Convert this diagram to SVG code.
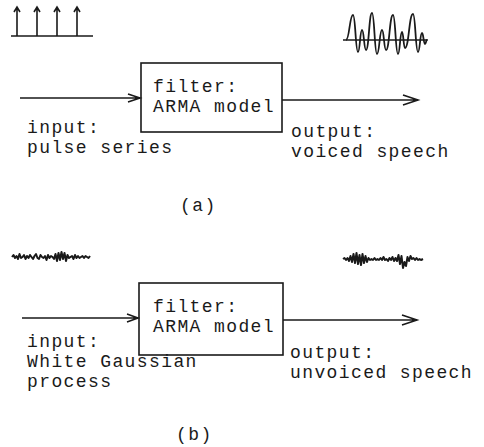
<svg xmlns="http://www.w3.org/2000/svg" width="484" height="447" viewBox="0 0 484 447">
<style>
text{font-family:"Liberation Mono","DejaVu Sans Mono",monospace;font-size:18px;letter-spacing:1.4px;fill:#1a1a1a}
.box{fill:none;stroke:#1a1a1a;stroke-width:1.6}
.ln{fill:none;stroke:#1a1a1a;stroke-width:1.6;stroke-linejoin:miter}
.wave{fill:none;stroke:#1a1a1a;stroke-width:1.8}
.noise{fill:none;stroke:#1a1a1a;stroke-width:2;stroke-linejoin:round}
</style>
<rect width="484" height="447" fill="#fff"/>
<!-- panel (a) -->
<g id="pulse-series-signal">
<path class="ln" d="M11,36 H93 M17,36 V7 M14,12 L17,7 L20,12 M37,36 V7 M34,12 L37,7 L40,12 M57,36 V7 M54,12 L57,7 L60,12 M77,36 V7 M74,12 L77,7 L80,12"/>
</g>
<g id="voiced-speech-signal">
<path class="ln" d="M343,40 H428"/>
<path class="wave" d="M346,40 C349.5,40 349.5,15 353,15 C355.5,15 355.5,52 358,52 C360,52 360,30 362,30 C364,30 364,50 366,50 C369,50 369,13 372,13 C374.5,13 374.5,54 377,54 C379.5,54 379.5,30 382,30 C384,30 384,50 386,50 C389.5,50 389.5,15 393,15 C395.5,15 395.5,54 398,54 C400,54 400,32 402,32 C403.5,32 403.5,48 405,48 C409,48 409,14 413,14 C415.5,14 415.5,52 418,52 C420,52 420,33 422,33 C423.5,33 423.5,44 425,44 C426,44 426,40 427,40"/>
</g>
<g id="filter-a">
<rect class="box" x="141" y="63" width="141" height="69"/>
<text x="153" y="92">filter:</text>
<text x="153" y="112">ARMA model</text>
</g>
<g id="input-a">
<text x="27" y="133">input:</text>
<text x="27" y="153">pulse series</text>
</g>
<g id="output-a">
<text x="291" y="137">output:</text>
<text x="291" y="157">voiced speech</text>
</g>
<text x="180" y="211">(a)</text>
<!-- panel (b) -->
<g id="white-noise-signal">
<polyline class="noise" points="12,257 13.5,255 15,258 16.5,256 18,259 19.5,254 21,258 22.5,257 24,255 25.5,259 27,256 28.5,258 30,255 31.5,257 33,259 34.5,256 36,254 37.5,258 39,259 40.5,255 42,257 43.5,258 45,256 46.5,260 48,255 49.5,258 51,256 52.5,257 54,259 55.5,254 57,261 58.5,253 60,260 61.5,252 63,259 64.5,253 66,261 67.5,255 69,258 70.5,257 72,256 73.5,259 75,255 76.5,258 78,256 79.5,258 81,257 82.5,256 84,258 85.5,256 87,257 88.5,258 90,256"/>
</g>
<g id="unvoiced-speech-signal">
<polyline class="noise" points="343,259 344.5,258 346,260 347.5,258 349,261 350.5,256 352,262 353.5,254 355,263 356.5,253 358,264 359.5,255 361,265 362.5,254 364,263 365.5,256 367,262 368.5,258 370,260 371.5,259 373,260 374.5,258 376,260 377.5,259 379,260 380.5,258 382,260 383.5,257 385,260 386.5,259 388,261 389.5,258 391,260 392.5,257 394,261 395.5,258 397,261 398.5,255 400,264 401.5,256 403,268 404.5,262 406,266 407.5,257 409,261 410.5,256 412,259 413.5,258 415,260 416.5,258 418,260 419.5,259 421,260 423,259"/>
</g>
<g id="filter-b">
<rect class="box" x="139" y="283" width="144" height="72"/>
<text x="153" y="312">filter:</text>
<text x="153" y="332">ARMA model</text>
</g>
<g id="input-b">
<text x="27" y="347">input:</text>
<text x="27" y="367">White Gaussian</text>
<text x="27" y="387">process</text>
</g>
<g id="output-b">
<text x="290" y="358">output:</text>
<text x="290" y="378">unvoiced speech</text>
</g>
<text x="176" y="440">(b)</text>
<g id="connectors">
<path class="ln" d="M20,98 H140 M128,94 L140,98 L128,102"/>
<path class="ln" d="M282,100 H418 M403,95 L418,100 L403,105"/>
<path class="ln" d="M22,318 H138 M127,314 L138,318 L127,322"/>
<path class="ln" d="M283,320 H417 M402,315 L417,320 L402,325"/>
</g>
</svg>
